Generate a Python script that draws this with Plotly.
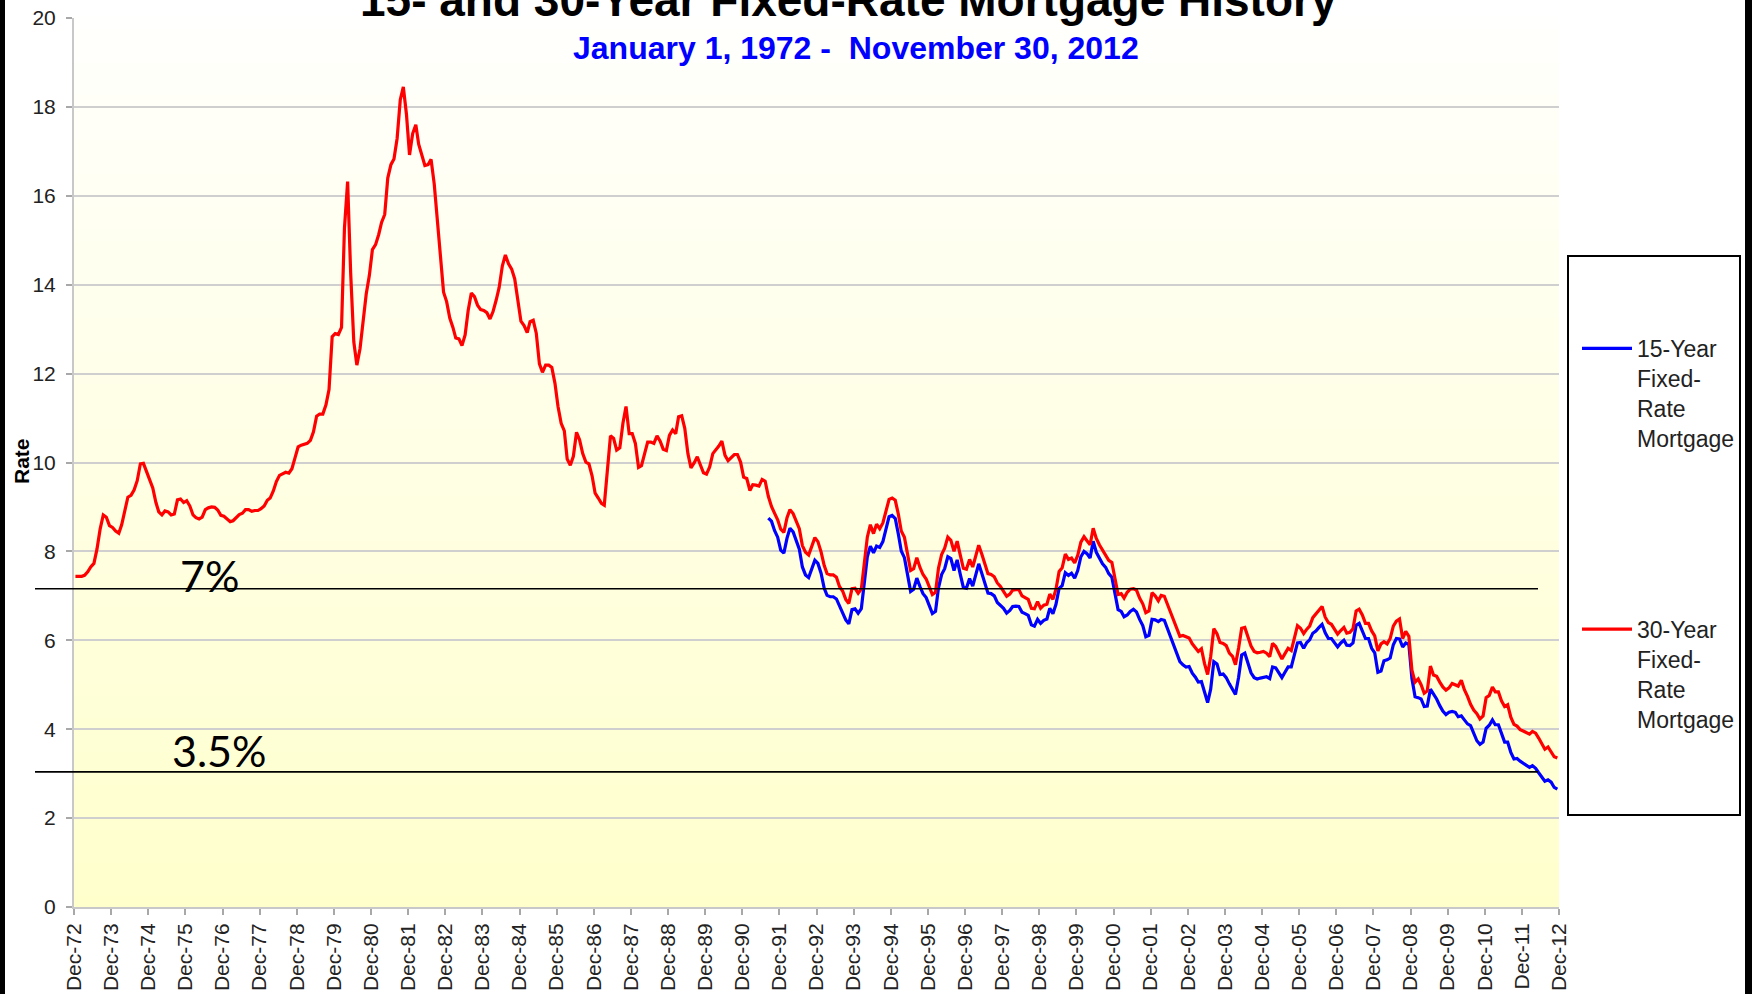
import pandas as pd
import plotly.graph_objects as go

# ---------------- data (monthly averages) ----------------
# 30-year fixed rate, Dec 1972 .. Nov 2012
rate_30yr = [
    7.44,
    7.44, 7.44, 7.46, 7.54, 7.65, 7.73, 8.05, 8.50, 8.82, 8.77, 8.58, 8.54,   # 1973
    8.46, 8.41, 8.60, 8.92, 9.22, 9.26, 9.38, 9.59, 9.97, 9.98, 9.79, 9.62,   # 1974
    9.43, 9.10, 8.89, 8.82, 8.91, 8.89, 8.82, 8.84, 9.16, 9.18, 9.10, 9.14,   # 1975
    9.02, 8.82, 8.76, 8.73, 8.77, 8.94, 8.98, 9.00, 8.99, 8.93, 8.81, 8.79,   # 1976
    8.72, 8.67, 8.69, 8.75, 8.83, 8.86, 8.94, 8.94, 8.90, 8.92, 8.92, 8.96,   # 1977
    9.02, 9.15, 9.20, 9.36, 9.57, 9.71, 9.74, 9.78, 9.76, 9.86, 10.11, 10.35, # 1978
    10.39, 10.41, 10.43, 10.50, 10.69, 11.04, 11.09, 11.09, 11.30, 11.64, 12.83, 12.90,  # 1979
    12.88, 13.04, 15.28, 16.32, 14.26, 12.71, 12.19, 12.56, 13.20, 13.79, 14.21, 14.79,  # 1980
    14.90, 15.13, 15.40, 15.58, 16.40, 16.70, 16.83, 17.29, 18.16, 18.45, 17.83, 16.92,  # 1981
    17.40, 17.60, 17.16, 16.89, 16.68, 16.70, 16.82, 16.27, 15.43, 14.61, 13.83, 13.62,  # 1982
    13.25, 13.04, 12.80, 12.78, 12.63, 12.87, 13.42, 13.81, 13.73, 13.54, 13.44, 13.42,  # 1983
    13.37, 13.23, 13.39, 13.65, 13.94, 14.42, 14.67, 14.47, 14.35, 14.13, 13.64, 13.18,  # 1984
    13.08, 12.92, 13.17, 13.20, 12.91, 12.22, 12.03, 12.19, 12.19, 12.14, 11.78, 11.26,  # 1985
    10.88, 10.71, 10.08, 9.94, 10.14, 10.68, 10.51, 10.20, 10.01, 9.97, 9.70, 9.31,      # 1986
    9.20, 9.08, 9.04, 9.83, 10.60, 10.54, 10.28, 10.33, 10.89, 11.26, 10.65, 10.65,      # 1987
    10.43, 9.89, 9.93, 10.20, 10.46, 10.46, 10.43, 10.60, 10.48, 10.30, 10.27, 10.61,    # 1988
    10.73, 10.65, 11.03, 11.05, 10.77, 10.20, 9.88, 9.99, 10.13, 9.95, 9.77, 9.74,       # 1989
    9.90, 10.20, 10.27, 10.37, 10.48, 10.16, 10.04, 10.10, 10.18, 10.18, 10.01, 9.67,    # 1990
    9.64, 9.37, 9.50, 9.49, 9.47, 9.62, 9.58, 9.24, 9.01, 8.86, 8.71, 8.50,              # 1991
    8.43, 8.76, 8.94, 8.85, 8.67, 8.51, 8.13, 7.98, 7.92, 8.09, 8.31, 8.22,              # 1992
    7.99, 7.68, 7.50, 7.47, 7.47, 7.42, 7.21, 7.11, 6.92, 6.83, 7.16, 7.17,              # 1993
    7.06, 7.15, 7.68, 8.32, 8.60, 8.40, 8.61, 8.51, 8.64, 8.93, 9.17, 9.20,              # 1994
    9.15, 8.83, 8.46, 8.32, 7.96, 7.57, 7.61, 7.86, 7.64, 7.48, 7.38, 7.20,              # 1995
    7.03, 7.08, 7.62, 7.93, 8.07, 8.32, 8.25, 8.00, 8.23, 7.92, 7.62, 7.60,              # 1996
    7.82, 7.65, 7.90, 8.14, 7.94, 7.69, 7.50, 7.48, 7.43, 7.29, 7.21, 7.10,              # 1997
    6.99, 7.04, 7.13, 7.14, 7.14, 7.00, 6.95, 6.92, 6.72, 6.71, 6.87, 6.72,              # 1998
    6.79, 6.81, 7.04, 6.92, 7.15, 7.55, 7.63, 7.94, 7.82, 7.85, 7.74, 7.91,              # 1999
    8.21, 8.33, 8.24, 8.15, 8.52, 8.29, 8.15, 8.03, 7.91, 7.80, 7.75, 7.38,              # 2000
    7.03, 7.05, 6.95, 7.08, 7.15, 7.16, 7.13, 6.95, 6.82, 6.62, 6.66, 7.07,              # 2001
    7.00, 6.89, 7.01, 6.99, 6.81, 6.65, 6.49, 6.29, 6.09, 6.11, 6.07, 6.05,              # 2002
    5.92, 5.84, 5.75, 5.81, 5.48, 5.23, 5.63, 6.26, 6.15, 5.95, 5.93, 5.88,              # 2003
    5.71, 5.64, 5.45, 5.83, 6.27, 6.29, 6.06, 5.87, 5.75, 5.72, 5.73, 5.75,              # 2004
    5.71, 5.63, 5.93, 5.86, 5.72, 5.58, 5.70, 5.82, 5.77, 6.07, 6.33, 6.27,              # 2005
    6.15, 6.25, 6.32, 6.51, 6.60, 6.68, 6.76, 6.52, 6.40, 6.36, 6.24, 6.14,              # 2006
    6.22, 6.29, 6.16, 6.18, 6.26, 6.66, 6.70, 6.57, 6.38, 6.38, 6.21, 6.10,              # 2007
    5.76, 5.92, 5.97, 5.92, 6.04, 6.32, 6.43, 6.48, 6.04, 6.20, 6.09, 5.33,              # 2008
    5.06, 5.13, 5.00, 4.81, 4.86, 5.42, 5.22, 5.19, 5.06, 4.95, 4.88, 4.93,              # 2009
    5.03, 4.99, 4.97, 5.10, 4.89, 4.74, 4.56, 4.43, 4.35, 4.23, 4.30, 4.71,              # 2010
    4.76, 4.95, 4.84, 4.84, 4.64, 4.51, 4.55, 4.27, 4.11, 4.07, 3.99, 3.96,              # 2011
    3.92, 3.89, 3.95, 3.91, 3.80, 3.68, 3.55, 3.60, 3.50, 3.38, 3.35,                    # 2012
]

# 15-year fixed rate, Aug 1991 .. Nov 2012
rate_15yr = [
    8.75, 8.68, 8.47, 8.32, 8.03,                                                        # 1991
    7.96, 8.30, 8.52, 8.44, 8.23, 8.05, 7.65, 7.47, 7.41, 7.59, 7.80, 7.73,              # 1992
    7.51, 7.17, 7.01, 6.98, 6.98, 6.93, 6.77, 6.64, 6.46, 6.37, 6.69, 6.71,              # 1993
    6.61, 6.71, 7.24, 7.88, 8.12, 7.97, 8.12, 8.09, 8.22, 8.52, 8.78, 8.81,              # 1994
    8.74, 8.38, 8.01, 7.86, 7.49, 7.10, 7.15, 7.40, 7.21, 7.05, 6.96, 6.77,              # 1995
    6.60, 6.65, 7.18, 7.48, 7.61, 7.88, 7.84, 7.57, 7.81, 7.49, 7.19, 7.17,              # 1996
    7.39, 7.22, 7.47, 7.72, 7.51, 7.27, 7.06, 7.05, 7.00, 6.85, 6.79, 6.72,              # 1997
    6.61, 6.67, 6.76, 6.77, 6.76, 6.63, 6.60, 6.56, 6.35, 6.32, 6.47, 6.38,              # 1998
    6.45, 6.48, 6.72, 6.60, 6.81, 7.17, 7.23, 7.52, 7.46, 7.51, 7.40, 7.57,              # 1999
    7.88, 8.00, 7.95, 7.85, 8.23, 7.98, 7.85, 7.72, 7.64, 7.50, 7.42, 7.06,              # 2000
    6.69, 6.65, 6.53, 6.57, 6.65, 6.70, 6.64, 6.47, 6.33, 6.08, 6.11, 6.47,              # 2001
    6.46, 6.42, 6.47, 6.45, 6.27, 6.08, 5.92, 5.74, 5.52, 5.45, 5.40, 5.41,              # 2002
    5.26, 5.17, 5.06, 5.07, 4.81, 4.60, 4.90, 5.52, 5.47, 5.23, 5.24, 5.16,              # 2003
    5.02, 4.90, 4.78, 5.17, 5.67, 5.71, 5.49, 5.27, 5.16, 5.13, 5.15, 5.16,              # 2004
    5.18, 5.14, 5.40, 5.38, 5.28, 5.16, 5.28, 5.40, 5.40, 5.70, 5.94, 5.95,              # 2005
    5.82, 5.95, 6.01, 6.16, 6.21, 6.29, 6.36, 6.17, 6.04, 6.04, 5.94, 5.85,              # 2006
    5.94, 6.00, 5.89, 5.88, 5.94, 6.34, 6.38, 6.19, 6.04, 6.04, 5.82, 5.72,              # 2007
    5.28, 5.31, 5.54, 5.56, 5.60, 5.90, 6.04, 6.03, 5.85, 5.94, 5.91, 5.14,              # 2008
    4.73, 4.71, 4.68, 4.51, 4.52, 4.90, 4.80, 4.68, 4.53, 4.41, 4.33, 4.38,              # 2009
    4.40, 4.38, 4.28, 4.30, 4.21, 4.12, 4.08, 3.89, 3.74, 3.66, 3.71, 4.02,              # 2010
    4.09, 4.21, 4.10, 4.10, 3.88, 3.71, 3.71, 3.48, 3.33, 3.34, 3.28, 3.24,              # 2011
    3.19, 3.14, 3.18, 3.12, 3.02, 2.93, 2.83, 2.86, 2.81, 2.69, 2.65,                    # 2012
]

months_30 = pd.date_range("1972-12-15", periods=len(rate_30yr), freq=pd.DateOffset(months=1))
months_15 = pd.date_range("1991-08-15", periods=len(rate_15yr), freq=pd.DateOffset(months=1))

series_names = ["15-Year<br>Fixed-<br>Rate<br>Mortgage", "30-Year<br>Fixed-<br>Rate<br>Mortgage"]
series_colors = ["#0000FF", "#FF0000"]

title_text = "15- and 30-Year Fixed-Rate Mortgage History"
subtitle_text = "January 1, 1972 -  November 30, 2012"
ref_levels = [7.16, 3.04]          # where the two black reference lines sit
ref_labels = ["7%", "3.5%"]

# ---------------- layout helpers (pixel -> paper) ----------------
FW, FH = 1752, 994
L, R, T, B = 74, 1559, 18, 907
PW, PH = R - L, B - T


def xp(px):
    return (px - L) / PW


def yp(py):
    return (B - py) / PH


FONT = "Liberation Sans, Arial, sans-serif"

fig = go.Figure()
fig.add_trace(go.Scatter(x=months_15, y=rate_15yr, mode="lines", name=series_names[0],
                         line=dict(color=series_colors[0], width=3.2), legendgroup="a"))
fig.add_trace(go.Scatter(x=months_30, y=rate_30yr, mode="lines", name=series_names[1],
                         line=dict(color=series_colors[1], width=3.2), legendgroup="b"))

shapes = []
# plot-area vertical gradient (white at top -> light yellow at bottom)
n_bands = 80
for i in range(n_bands):
    f = (i + 0.5) / n_bands          # 0 bottom .. 1 top
    b = int(round(204 + (253 - 204) * f))
    shapes.append(dict(type="rect", xref="x domain", yref="y domain", x0=0, x1=1,
                       y0=i / n_bands, y1=(i + 1) / n_bands + 0.002, layer="below",
                       line=dict(width=0), fillcolor=f"rgb(255,255,{b})"))
# black reference lines
for lvl in ref_levels:
    shapes.append(dict(type="line", xref="paper", yref="y", x0=xp(35), x1=xp(1538),
                       y0=lvl, y1=lvl, line=dict(color="black", width=1.6)))
# legend box
shapes.append(dict(type="rect", xref="paper", yref="paper", x0=xp(1568), x1=xp(1740),
                   y0=yp(815), y1=yp(256), line=dict(color="black", width=2),
                   fillcolor="white", layer="below"))
# dark frame strips at the image edges
shapes.append(dict(type="rect", xref="paper", yref="paper", x0=xp(0), x1=xp(5),
                   y0=yp(FH), y1=yp(0), line=dict(width=0), fillcolor="black"))
shapes.append(dict(type="rect", xref="paper", yref="paper", x0=xp(1745), x1=xp(FW),
                   y0=yp(FH), y1=yp(0), line=dict(width=0), fillcolor="black"))

annotations = [
    dict(text=f"<b>{title_text}</b>", x=xp(849), y=yp(16 - 0.3465 * 46), xref="paper", yref="paper",
         xanchor="center", yanchor="middle", showarrow=False,
         font=dict(family=FONT, size=46, color="black")),
    dict(text=f"<b>{subtitle_text}</b>", x=xp(856), y=yp(59 - 0.3465 * 32), xref="paper", yref="paper",
         xanchor="center", yanchor="middle", showarrow=False,
         font=dict(family=FONT, size=32, color="#0000FF")),
    dict(text="<b>Rate</b>", x=xp(21), y=yp(461), xref="paper", yref="paper", textangle=-90,
         xanchor="center", yanchor="middle", showarrow=False,
         font=dict(family=FONT, size=21, color="black")),
    dict(text=ref_labels[0], x=xp(209), y=yp(575), xref="paper", yref="paper",
         xanchor="center", yanchor="middle", showarrow=False,
         font=dict(family="Lato, sans-serif", size=43, color="black")),
    dict(text=ref_labels[1], x=xp(219), y=yp(750), xref="paper", yref="paper",
         xanchor="center", yanchor="middle", showarrow=False,
         font=dict(family="Lato, sans-serif", size=43, color="black")),
]

fig.update_layout(
    width=FW, height=FH, autosize=False,
    margin=dict(l=L, r=FW - R, t=T, b=FH - B, pad=0, autoexpand=False),
    paper_bgcolor="white", plot_bgcolor="rgba(0,0,0,0)",
    font=dict(family=FONT, color="#222222"),
    shapes=shapes, annotations=annotations,
    showlegend=True,
    legend=dict(x=xp(1577), xanchor="left", y=yp(327), yanchor="top",
                bgcolor="rgba(0,0,0,0)", borderwidth=0, valign="top",
                traceorder="grouped", tracegroupgap=158, itemwidth=50,
                font=dict(family=FONT, size=23, color="#222222")),
)

fig.update_xaxes(
    type="date", range=["1972-12-01", "2012-12-01"],
    tick0="1972-12-01", dtick="M12", tickformat="%b-%y", tickangle=-90,
    ticks="outside", ticklen=6, tickwidth=1.5, tickcolor="#A8A8A8",
    showline=True, linecolor="#C8C8C8", linewidth=2,
    showgrid=False, zeroline=False, automargin=False,
    tickfont=dict(family=FONT, size=21, color="#222222"),
)
fig.update_yaxes(
    range=[0, 20], dtick=2, tick0=0,
    ticks="outside", ticklen=6, tickwidth=1.5, tickcolor="#A8A8A8",
    showline=True, linecolor="#C8C8C8", linewidth=2,
    showgrid=True, gridcolor="#CFCFCF", gridwidth=2, zeroline=False,
    ticklabelstandoff=6, automargin=False,
    tickfont=dict(family=FONT, size=21, color="#222222"),
)

fig.write_html("out.html", config={"displayModeBar": False},
               post_script="document.body.style.margin='0';document.body.style.overflow='hidden';")
